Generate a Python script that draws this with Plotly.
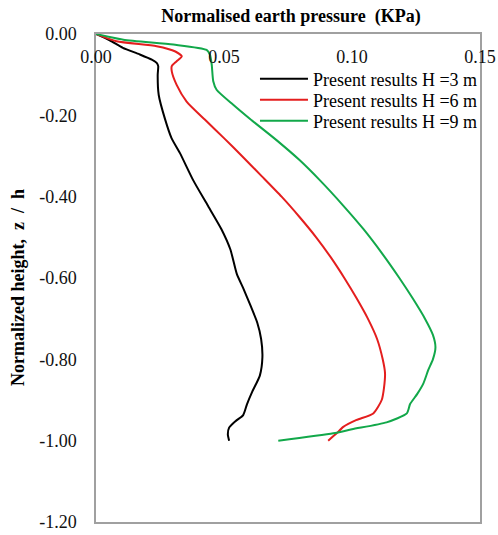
import plotly.graph_objects as go

# Normalised earth pressure (KPa) and normalised height z/h for each wall height
x_h3 = [0, 0.0055, 0.0105, 0.017, 0.0218, 0.0237, 0.0243, 0.0241, 0.0245, 0.027, 0.0295, 0.0328,
        0.038, 0.0435, 0.049, 0.0525, 0.055, 0.0575, 0.0605, 0.063, 0.0645, 0.065, 0.064, 0.061,
        0.059, 0.0575, 0.0545, 0.052, 0.0515, 0.052]
y_h3 = [0, -0.016, -0.034, -0.05, -0.063, -0.071, -0.079, -0.10, -0.15, -0.21, -0.256, -0.293,
        -0.36, -0.42, -0.48, -0.53, -0.59, -0.625, -0.67, -0.71, -0.75, -0.795, -0.84, -0.88,
        -0.91, -0.937, -0.952, -0.968, -0.985, -1.0]

x_h6 = [0, 0.008, 0.0237, 0.031, 0.0335, 0.0315, 0.0296, 0.0296, 0.0315, 0.0354, 0.0426, 0.050,
        0.057, 0.0648, 0.0725, 0.0795, 0.086, 0.0918, 0.097, 0.1018, 0.1062, 0.1098, 0.112,
        0.1129, 0.1125, 0.1116, 0.1083, 0.1018, 0.0966, 0.094, 0.0907]
y_h6 = [0, -0.018, -0.030, -0.043, -0.055, -0.067, -0.079, -0.092, -0.125, -0.166, -0.211, -0.256,
        -0.30, -0.35, -0.40, -0.45, -0.50, -0.55, -0.60, -0.65, -0.70, -0.75, -0.80,
        -0.834, -0.87, -0.900, -0.933, -0.949, -0.966, -0.982, -1.0]

x_h9 = [0, 0.0107, 0.0302, 0.0432, 0.0445, 0.0452, 0.0458, 0.0471, 0.0536, 0.0602, 0.0705, 0.0795,
        0.0875, 0.0963, 0.1045, 0.1118, 0.1185, 0.1237, 0.1285, 0.1316, 0.1326, 0.1316, 0.1298,
        0.1279, 0.1255, 0.1227, 0.1214, 0.1135, 0.1, 0.0927, 0.0712]
y_h9 = [0, -0.014, -0.026, -0.039, -0.051, -0.075, -0.116, -0.137, -0.174, -0.209, -0.261, -0.31,
        -0.36, -0.42, -0.48, -0.54, -0.60, -0.65, -0.70, -0.74, -0.77, -0.80, -0.826, -0.859,
        -0.885, -0.910, -0.933, -0.955, -0.972, -0.982, -1.0]

series_names = ["Present results H =3 m", "Present results H =6 m", "Present results H =9 m"]
series_colors = ["#000000", "#e41e1e", "#12a84a"]

x_ticks = [0.0, 0.05, 0.10, 0.15]
x_tick_text = ["0.00", "0.05", "0.10", "0.15"]
y_ticks = [0.0, -0.2, -0.4, -0.6, -0.8, -1.0, -1.2]
y_tick_text = ["0.00", "-0.20", "-0.40", "-0.60", "-0.80", "-1.00", "-1.20"]

FONT = "Liberation Serif, Times New Roman, serif"

legend_ids = ["legend", "legend2", "legend3"]
legend_tops = [0.9455, 0.9025, 0.8595]

fig = go.Figure()
for xs, ys, name, col, lid in zip([x_h3, x_h6, x_h9], [y_h3, y_h6, y_h9], series_names,
                                  series_colors, legend_ids):
    fig.add_trace(go.Scatter(x=xs, y=ys, mode="lines", name=name, legend=lid,
                             line=dict(color=col, width=2, shape="spline", smoothing=0.6)))

legend_common = dict(x=0.414, xanchor="left", yanchor="top", bgcolor="rgba(0,0,0,0)",
                     font=dict(family=FONT, size=18, color="#000000"), itemwidth=48)

fig.update_layout(
    width=498, height=535,
    margin=dict(l=96, r=18, t=34, b=13, autoexpand=False),
    paper_bgcolor="white", plot_bgcolor="white",
    font=dict(family=FONT, size=18, color="#111111"),
    title=dict(text="<b>Normalised earth pressure  (KPa)</b>", x=291 / 498, xref="container",
               xanchor="center", y=1 - 16 / 535, yref="container", yanchor="middle",
               font=dict(family=FONT, size=18, color="#000000")),
    showlegend=True,
    legend=dict(y=legend_tops[0], **legend_common),
    legend2=dict(y=legend_tops[1], **legend_common),
    legend3=dict(y=legend_tops[2], **legend_common),
    annotations=[dict(text="<b>Normalized height,  z  /  h</b>", textangle=-90,
                      xref="paper", yref="paper", x=(18 - 96) / 384, y=1 - (288 - 34) / 488,
                      xanchor="center", yanchor="middle", showarrow=False,
                      font=dict(family=FONT, size=18, color="#000000"))],
)
fig.update_xaxes(range=[0, 0.15], tickvals=x_ticks, ticktext=x_tick_text, side="top",
                 ticklabelposition="inside", ticklabeloverflow="allow", ticks="",
                 showgrid=False, zeroline=False, showline=True, linecolor="#a0a0a0",
                 linewidth=1.5, mirror=True, ticklabelstandoff=17, automargin=False,
                 tickfont=dict(family=FONT, size=18, color="#111111"))
fig.update_yaxes(range=[-1.2, 0], tickvals=y_ticks, ticktext=y_tick_text, ticks="",
                 showgrid=False, zeroline=False, showline=True, linecolor="#a0a0a0",
                 linewidth=1.5, mirror=True, ticklabelstandoff=14, automargin=False,
                 tickfont=dict(family=FONT, size=18, color="#111111"))

fig.write_html("out.html")
